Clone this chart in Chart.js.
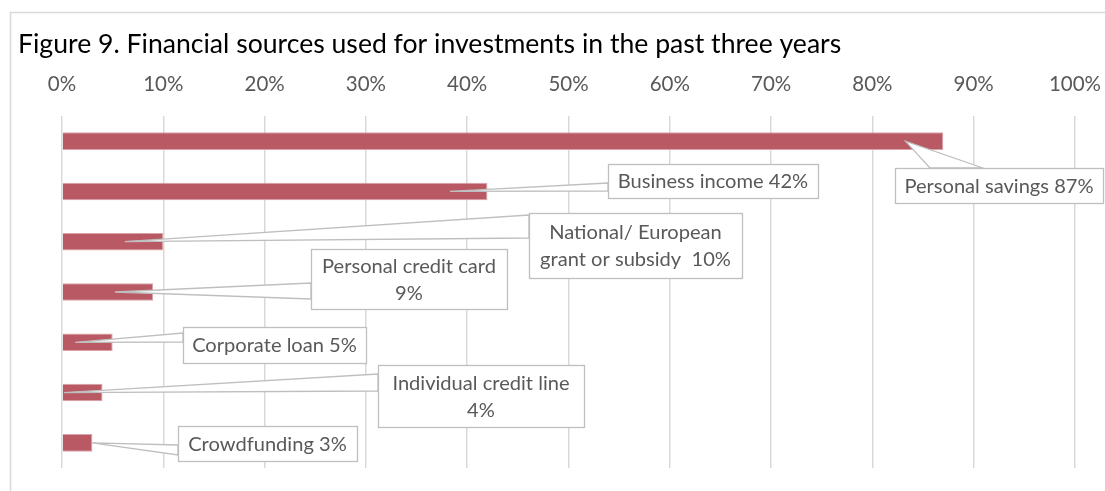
<!DOCTYPE html>
<html><head><meta charset="utf-8">
<script src="https://cdn.jsdelivr.net/npm/chart.js@4/dist/chart.umd.min.js"></script>
<style>html,body{margin:0;padding:0;background:#fff;overflow:hidden}#wrap{width:1105px;height:491px;position:relative}</style>
</head><body><div id="wrap"><canvas id="c" width="1105" height="491"></canvas></div>
<script>
const titleText = "Figure 9. Financial sources used for investments in the past three years";
const categories = ["Personal savings", "Business income", "National/ European grant or subsidy", "Personal credit card", "Corporate loan", "Individual credit line", "Crowdfunding"];
const values = [87, 42, 10, 9, 5, 4, 3];
const xTickLabels = ["0%", "10%", "20%", "30%", "40%", "50%", "60%", "70%", "80%", "90%", "100%"];
const calloutLines = [
  ["Personal savings {v}"],
  ["Business income {v}"],
  ["National/ European", "grant or subsidy  {v}"],
  ["Personal credit card", "{v}"],
  ["Corporate loan {v}"],
  ["Individual credit line", "{v}"],
  ["Crowdfunding {v}"]
];

// layout of the callout boxes (pixels) - presentation only
const calloutLayout = [
  {box: [895, 168, 1103, 203], base: [[930, 168], [983, 168]], tip: 0.957},
  {box: [608, 164, 818, 198], base: [[608, 183], [608, 191]], tip: 0.912},
  {box: [529, 213, 742, 278], base: [[529, 215], [529, 238]], tip: 0.62},
  {box: [311, 249, 507, 309], base: [[311, 283], [311, 299]], tip: 0.58},
  {box: [183, 327, 366, 363], base: [[183, 333], [183, 342]], tip: 0.26},
  {box: [378, 365, 584, 427], base: [[378, 374], [378, 391]], tip: 0.05},
  {box: [178, 426, 357, 461], base: [[178, 445], [178, 455]], tip: 1.0}
];

const FONT = "Lato, 'Source Sans Pro', 'Noto Sans', sans-serif";
const mctx = document.createElement('canvas').getContext('2d');
function fitSize(text, target) {
  mctx.font = "100px " + FONT;
  return Math.round(100 * target / mctx.measureText(text).width * 10) / 10;
}
const titleSize = fitSize(titleText, 822);
const tickSize = fitSize("100%", 52);
const calloutSize = fitSize("Business income 42%", 190);
const TEXT = '#595959';
const LINE = '#BFBFBF';

const frame = {
  id: 'frame',
  beforeDraw(chart) {
    const ctx = chart.ctx;
    ctx.save();
    ctx.strokeStyle = '#D9D9D9';
    ctx.lineWidth = 1.5;
    ctx.strokeRect(10.5, 12.5, 1300, 700);
    ctx.restore();
  }
};

const callouts = {
  id: 'callouts',
  afterDatasetsDraw(chart) {
    const ctx = chart.ctx;
    const xs = chart.scales.x;
    const meta = chart.getDatasetMeta(0);
    ctx.save();
    calloutLayout.forEach((c, i) => {
      const bar = meta.data[i];
      const tx = xs.getPixelForValue(values[i] * c.tip);
      const ty = bar.y;
      ctx.beginPath();
      ctx.moveTo(tx, ty);
      ctx.lineTo(c.base[0][0], c.base[0][1]);
      ctx.lineTo(c.base[1][0], c.base[1][1]);
      ctx.closePath();
      ctx.fillStyle = '#fff';
      ctx.fill();
      ctx.strokeStyle = LINE;
      ctx.lineWidth = 1.3;
      ctx.stroke();
      const [x0, y0, x1, y1] = c.box;
      ctx.fillRect(x0, y0, x1 - x0, y1 - y0);
      ctx.strokeRect(x0 + 0.5, y0 + 0.5, x1 - x0, y1 - y0);
      const lines = calloutLines[i].map(s => s.replace('{v}', values[i] + '%'));
      ctx.fillStyle = TEXT;
      ctx.font = calloutSize + 'px ' + FONT;
      ctx.textAlign = 'center';
      ctx.textBaseline = 'middle';
      const lh = 27;
      const cx = (x0 + x1) / 2, cy = (y0 + y1) / 2 + 1;
      lines.forEach((l, k) => {
        ctx.fillText(l, cx, cy + (k - (lines.length - 1) / 2) * lh);
      });
    });
    ctx.restore();
  }
};

new Chart(document.getElementById('c'), {
  type: 'bar',
  data: {
    labels: categories,
    datasets: [{
      data: values,
      backgroundColor: '#B95963',
      borderColor: '#D8A3A8',
      borderWidth: 1,
      barPercentage: 0.35,
      categoryPercentage: 1
    }]
  },
  options: {
    indexAxis: 'y',
    responsive: false,
    animation: false,
    layout: {padding: {left: 18, top: 0, right: 30, bottom: 23}},
    plugins: {
      legend: {display: false},
      tooltip: {enabled: false},
      title: {
        display: true,
        text: titleText,
        align: 'start',
        color: '#000',
        font: {family: FONT, size: titleSize, weight: 'normal', lineHeight: 1.2},
        padding: {top: 28, bottom: 0}
      }
    },
    scales: {
      x: {
        position: 'top',
        min: 0, max: 100,
        ticks: {
          stepSize: 10,
          color: TEXT,
          padding: 19,
          font: {family: FONT, size: tickSize},
          callback: (v, i) => xTickLabels[i]
        },
        grid: {color: '#D9D9D9', lineWidth: 1.5, drawTicks: false},
        border: {display: false},
        afterFit: s => {
          s.height = 116 - (28 + titleSize * 1.2);
          s.paddingLeft = 0;
          s.paddingRight = 0;
        }
      },
      y: {
        ticks: {display: false},
        grid: {display: false},
        border: {display: false},
        afterFit: s => { s.width = 44; s.paddingTop = 0; s.paddingBottom = 0; }
      }
    }
  },
  plugins: [frame, callouts]
});
</script>
</body></html>
